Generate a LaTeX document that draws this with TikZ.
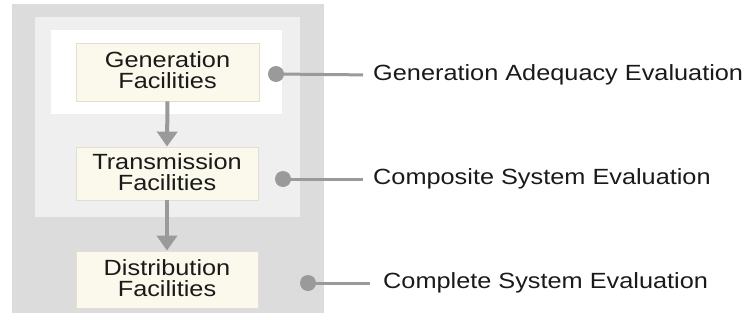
\documentclass[tikz,border=0pt]{standalone}
\usepackage{fontspec}
\setmainfont{Liberation Sans}
\usetikzlibrary{arrows.meta}
\definecolor{outerfill}{HTML}{DCDCDC}
\definecolor{midfill}{HTML}{EFEFEF}
\definecolor{boxfill}{HTML}{FBF8EC}
\definecolor{boxline}{HTML}{E2DFD2}
\definecolor{connector}{HTML}{9A9A9A}
\definecolor{textcol}{HTML}{1A1A1A}
\newcommand{\widetext}[1]{\scalebox{1.15}[1]{#1}}
\newcommand{\twolines}[2]{\raisebox{-7pt}[0pt][0pt]{\widetext{\begin{tabular}{@{}c@{}}#1\\[-2pt]#2\end{tabular}}}}
\tikzset{
  facility/.style={draw=boxline, line width=0.8pt, fill=boxfill, inner sep=0pt,
    text=textcol, font=\fontsize{22}{23}\selectfont},
  evallabel/.style={anchor=west, inner sep=0pt, text=textcol,
    font=\fontsize{22}{23}\selectfont},
  flow/.style={connector, line width=4pt, -{Triangle[width=20pt,length=15pt]}},
  leader/.style={connector, line width=3pt},
  marker/.style={circle, fill=connector, minimum size=16pt, inner sep=0pt}
}
\begin{document}
\begin{tikzpicture}[x=1pt,y=-1pt]
\useasboundingbox (0,0) rectangle (749,321);
% nested evaluation regions
\fill[outerfill] (12,4) rectangle (324,313);
\fill[midfill] (35,17) rectangle (300,217);
\fill[white] (51,30) rectangle (282,114);
% facility boxes
\node[facility, minimum width=183pt, minimum height=58pt] (gen) at (167.5,72)
  {\twolines{Generation}{Facilities}};
\node[facility, minimum width=182pt, minimum height=53pt] (trans) at (167,173.5)
  {\twolines{Transmission}{Facilities}};
\node[facility, minimum width=182pt, minimum height=57pt] (dist) at (167,279.5)
  {\twolines{Distribution}{Facilities}};
% flow between facilities
\draw[flow] (gen.south) -- (trans.north);
\draw[flow] (trans.south) -- (dist.north);
% evaluation levels
\node[marker] (m1) at (276,74) {};
\node[marker] (m2) at (283,179) {};
\node[marker] (m3) at (308,283) {};
\node[evallabel] (l1) at (373,75) {\widetext{Generation Adequacy Evaluation}};
\node[evallabel] (l2) at (373,179) {\widetext{Composite System Evaluation}};
\node[evallabel] (l3) at (383,283) {\widetext{Complete System Evaluation}};
\draw[leader, shorten >=10pt] (m1.center) -- (l1.west);
\draw[leader, shorten >=10pt] (m2.center) -- (l2.west);
\draw[leader, shorten >=13pt] (m3.center) -- (l3.west);
\end{tikzpicture}
\end{document}
